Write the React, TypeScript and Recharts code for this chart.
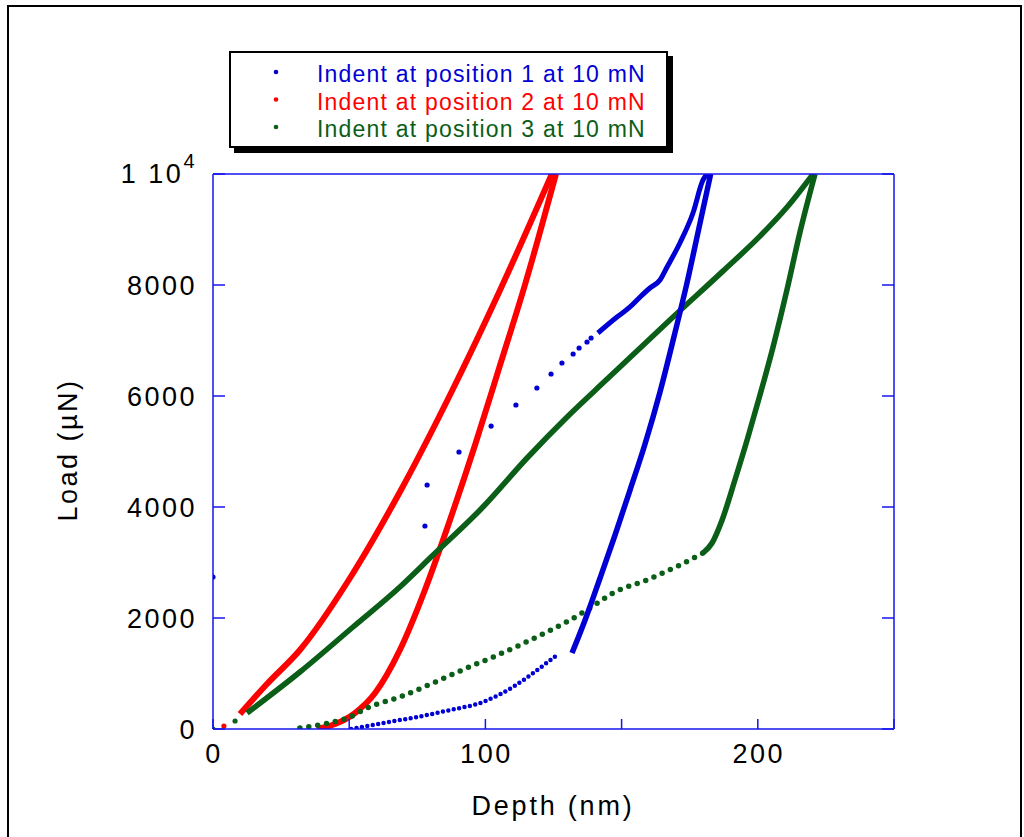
import React from 'react';
import { ComposedChart, Line, Scatter, XAxis, YAxis, Legend } from 'recharts';

const FONT = '"Liberation Sans", Arial, Helvetica, sans-serif';
const AXIS_COLOR = '#1414ee';
const BLUE = '#0000d4';
const RED = '#ff0000';
const GREEN = '#0b5e17';

// Each point is [depth (nm), load (µN)]
type Pt = [number, number];

// Indent 1
const pos1Loading: Pt[] = [
  [50.7, 0], [62.4, 108], [74.9, 216], [87.0, 342], [99.1, 486],
  [110.1, 757], [120.0, 1099], [126.3, 1333],
];
const pos1Jump: Pt[] = [
  [0, 2739], [77.8, 3658], [78.6, 4396], [90.3, 4991], [102.1, 5459],
  [111.2, 5838], [118.9, 6144], [124.1, 6396], [128.1, 6595], [132.2, 6757],
  [134.4, 6865], [137.3, 6973], [138.8, 7045],
];
const pos1LoadingTop: Pt[] = [
  [141.3, 7135], [148.3, 7423], [153.1, 7604], [156.8, 7784], [160.4, 7946],
  [164.1, 8090], [166.7, 8324], [171.4, 8757], [176.2, 9297], [179.9, 9892],
  [181.4, 10000],
];
const pos1Unloading: Pt[] = [
  [131.8, 1369], [136.6, 1964], [142.1, 2721], [147.6, 3495], [153.1, 4306],
  [158.6, 5135], [164.1, 6072], [169.2, 7063], [174.0, 8036], [178.4, 9027],
  [182.7, 10000],
];

// Indent 2
const pos2Start: Pt[] = [[4.0, 54]];
const pos2Loading: Pt[] = [
  [9.9, 270], [19.8, 811], [31.9, 1423], [50.3, 2721], [68.6, 4270],
  [87.0, 6018], [105.4, 7910], [124.4, 10000],
];
const pos2Unloading: Pt[] = [
  [38.2, 0], [44.8, 90], [52.1, 288], [59.5, 649], [68.6, 1423],
  [77.8, 2505], [87.0, 3766], [96.2, 5117], [105.4, 6559], [114.5, 8000],
  [125.9, 10000],
];

// Indent 3
const pos3Start: Pt[] = [[0, 0], [8.1, 144]];
const pos3Loading: Pt[] = [
  [12.5, 288], [31.9, 1027], [51.4, 1838], [68.6, 2559], [80.8, 3135],
  [99.1, 4000], [115.3, 4883], [130.0, 5622], [144.6, 6300],
  [168.9, 7423], [187.2, 8250], [200.8, 8880], [210.7, 9400], [220.3, 10000],
];
const pos3UnloadingLow: Pt[] = [
  [31.9, 18], [44.1, 126], [50.3, 216], [56.5, 378], [68.6, 577],
  [80.8, 829], [93.2, 1099], [102.8, 1297], [112.7, 1514], [122.6, 1748],
  [131.1, 1964], [138.4, 2180], [146.8, 2450], [159.3, 2685], [171.4, 2955],
  [179.9, 3171],
];
const pos3UnloadingHigh: Pt[] = [
  [179.9, 3171], [183.2, 3351], [186.9, 3766], [191.6, 4486], [196.4, 5261],
  [200.8, 6018], [205.6, 6883], [210.7, 7910], [215.5, 8955], [221.0, 10000],
];

const xTicks = [0, 50, 100, 150, 200, 250];
const xLabels = [0, 100, 200];
const yTicks = [0, 2000, 4000, 6000, 8000, 10000];

const legendItems = [
  { label: 'Indent at position 1 at 10 mN', color: BLUE },
  { label: 'Indent at position 2 at 10 mN', color: RED },
  { label: 'Indent at position 3 at 10 mN', color: GREEN },
];

const toRows = (pts: Pt[]) => pts.map(([depth, load]) => ({ depth, load }));

const tickText = {
  fontFamily: FONT,
  fontSize: 27,
  letterSpacing: 2.5,
  fill: '#000',
};

const BottomTick = ({ x, y, payload }: any) => (
  <g>
    <line x1={x} y1={y} x2={x} y2={y - 10} stroke={AXIS_COLOR} strokeWidth={1.5} />
    {xLabels.includes(payload.value) && (
      <text x={x + 1} y={y + 34} textAnchor="middle" style={tickText}>
        {payload.value}
      </text>
    )}
  </g>
);

const TopTick = ({ x, y }: any) => (
  <line x1={x} y1={y} x2={x} y2={y + 10} stroke={AXIS_COLOR} strokeWidth={1.5} />
);

const LeftTick = ({ x, y, payload }: any) => (
  <g>
    <line x1={x} y1={y} x2={x + 12} y2={y} stroke={AXIS_COLOR} strokeWidth={1.5} />
    {payload.value === 10000 ? (
      <text x={x - 16} y={y + 9} textAnchor="end" style={tickText}>
        <tspan>1 10</tspan>
        <tspan fontSize={20} dy={-15}>4</tspan>
      </text>
    ) : (
      <text x={x - 16} y={y + 10} textAnchor="end" style={tickText}>
        {payload.value}
      </text>
    )}
  </g>
);

const RightTick = ({ x, y }: any) => (
  <line x1={x} y1={y} x2={x - 12} y2={y} stroke={AXIS_COLOR} strokeWidth={1.5} />
);

const LegendBox = () => (
  <div
    style={{
      width: 435,
      height: 93,
      border: '2px solid #000',
      boxShadow: '5px 5px 0 #000',
      background: '#fff',
    }}
  >
    <svg width={435} height={93}>
      {legendItems.map((item, i) => (
        <g key={item.label}>
          <circle cx={45} cy={19 + i * 27.5} r={2.3} fill={item.color} />
          <text
            x={86}
            y={29 + i * 27.5}
            fill={item.color}
            style={{ fontFamily: FONT, fontSize: 23, letterSpacing: 1.2 }}
          >
            {item.label}
          </text>
        </g>
      ))}
    </svg>
  </div>
);

const dots = (color: string) => (props: any) => (
  <circle cx={props.cx} cy={props.cy} r={2.6} fill={color} />
);

export default function App() {
  return (
    <div
      style={{
        position: 'absolute',
        left: 0,
        top: 0,
        width: 1024,
        height: 837,
        overflow: 'hidden',
        background: '#fff',
      }}
    >
      <div
        style={{
          position: 'absolute',
          left: 7,
          top: 5,
          width: 1011,
          height: 900,
          border: '2px solid #000',
        }}
      />
      <ComposedChart
        width={1024}
        height={837}
        margin={{ top: 173, right: 129, bottom: 107, left: 212 }}
      >
        <XAxis
          dataKey="depth"
          type="number"
          domain={[0, 250]}
          ticks={xTicks}
          allowDataOverflow
          height={1}
          tickSize={0}
          tickMargin={0}
          tickLine={false}
          tick={<BottomTick />}
          interval={0}
          axisLine={{ stroke: AXIS_COLOR, strokeWidth: 1.5 }}
          label={() => (
            <text
              x={553}
              y={815}
              textAnchor="middle"
              style={{ ...tickText, letterSpacing: 2.8 }}
            >
              Depth (nm)
            </text>
          )}
        />
        <XAxis
          xAxisId="top"
          orientation="top"
          type="number"
          domain={[0, 250]}
          ticks={xTicks}
          allowDataOverflow
          height={1}
          tickSize={0}
          tickMargin={0}
          tickLine={false}
          tick={<TopTick />}
          interval={0}
          axisLine={{ stroke: AXIS_COLOR, strokeWidth: 1.5 }}
        />
        <YAxis
          dataKey="load"
          type="number"
          domain={[0, 10000]}
          ticks={yTicks}
          allowDataOverflow
          width={1}
          tickSize={0}
          tickMargin={0}
          tickLine={false}
          tick={<LeftTick />}
          interval={0}
          axisLine={{ stroke: AXIS_COLOR, strokeWidth: 1.5 }}
          label={() => (
            <text
              x={77}
              y={450}
              textAnchor="middle"
              transform="rotate(-90 77 450)"
              style={{ ...tickText, letterSpacing: 2.5 }}
            >
              Load (µN)
            </text>
          )}
        />
        <YAxis
          yAxisId="right"
          orientation="right"
          type="number"
          domain={[0, 10000]}
          ticks={yTicks}
          allowDataOverflow
          width={1}
          tickSize={0}
          tickMargin={0}
          tickLine={false}
          tick={<RightTick />}
          interval={0}
          axisLine={{ stroke: AXIS_COLOR, strokeWidth: 1.5 }}
        />
        <Legend
          layout="horizontal"
          verticalAlign="middle"
          align="center"
          wrapperStyle={{ left: 229, top: 51, width: 439, height: 97 }}
          content={() => <LegendBox />}
        />

        {/* indent 2 */}
        <Scatter data={toRows(pos2Start)} fill={RED} shape={dots(RED)} isAnimationActive={false} />
        <Line data={toRows(pos2Loading)} dataKey="load" type="monotone" stroke={RED} strokeWidth={6}
          dot={false} activeDot={false} isAnimationActive={false} />
        <Line data={toRows(pos2Unloading)} dataKey="load" type="monotone" stroke={RED} strokeWidth={6}
          dot={false} activeDot={false} isAnimationActive={false} />

        {/* indent 3 */}
        <Scatter data={toRows(pos3Start)} fill={GREEN} shape={dots(GREEN)} isAnimationActive={false} />
        <Line data={toRows(pos3Loading)} dataKey="load" type="monotone" stroke={GREEN} strokeWidth={5.5}
          dot={false} activeDot={false} isAnimationActive={false} />
        <Line data={toRows(pos3UnloadingLow)} dataKey="load" type="monotone" stroke={GREEN} strokeWidth={5.5}
          strokeDasharray="0 9" strokeLinecap="round" dot={false} activeDot={false} isAnimationActive={false} />
        <Line data={toRows(pos3UnloadingHigh)} dataKey="load" type="monotone" stroke={GREEN} strokeWidth={5.5}
          dot={false} activeDot={false} isAnimationActive={false} />

        {/* indent 1 */}
        <Line data={toRows(pos1Loading)} dataKey="load" type="monotone" stroke={BLUE} strokeWidth={4.5}
          strokeDasharray="0 5.5" strokeLinecap="round" dot={false} activeDot={false} isAnimationActive={false} />
        <Scatter data={toRows(pos1Jump)} fill={BLUE} shape={dots(BLUE)} isAnimationActive={false} />
        <Line data={toRows(pos1LoadingTop)} dataKey="load" type="monotone" stroke={BLUE} strokeWidth={5}
          dot={false} activeDot={false} isAnimationActive={false} />
        <Line data={toRows(pos1Unloading)} dataKey="load" type="monotone" stroke={BLUE} strokeWidth={5.5}
          dot={false} activeDot={false} isAnimationActive={false} />
      </ComposedChart>
    </div>
  );
}
